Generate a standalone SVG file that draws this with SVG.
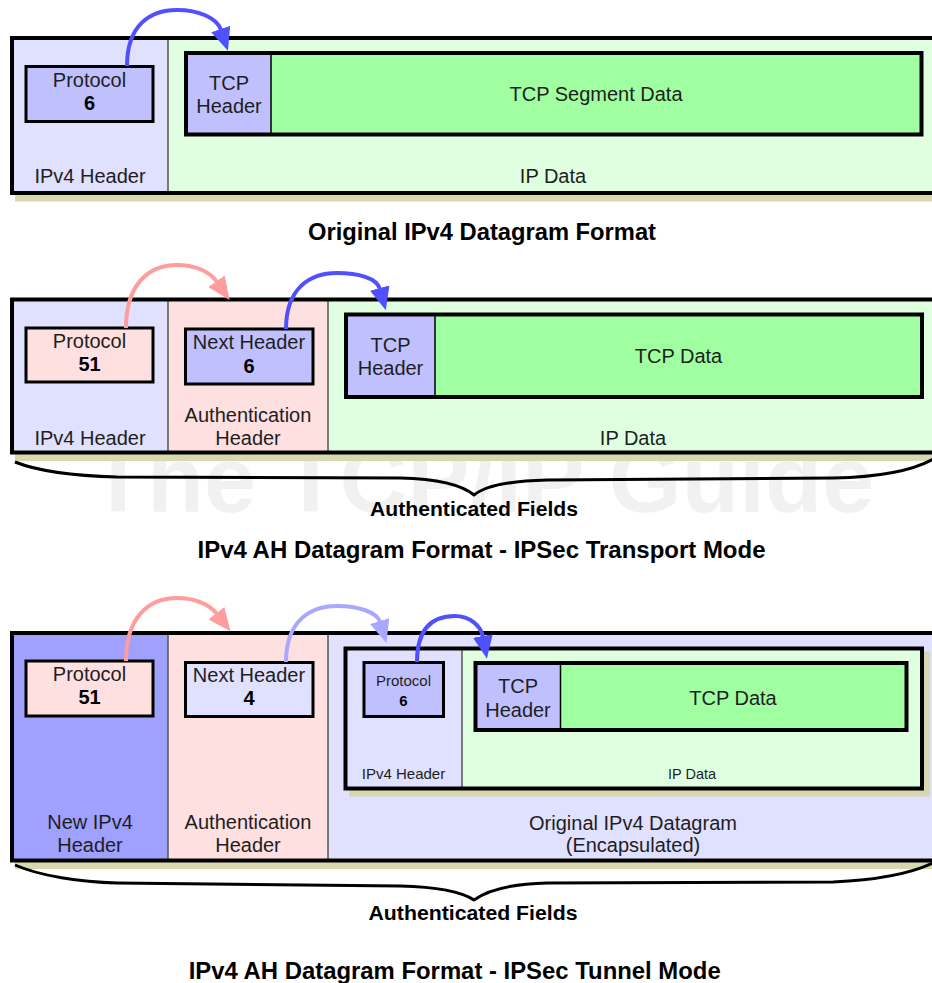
<svg xmlns="http://www.w3.org/2000/svg" width="932" height="983" viewBox="0 0 932 983">
<defs>
<style>
.t{font-family:"Liberation Sans",Arial,sans-serif;font-size:20px;fill:#1e1e1e;text-anchor:middle}
.b{font-weight:bold;fill:#000}
.s{font-size:15px}
.ttl{font-family:"Liberation Sans",Arial,sans-serif;font-size:23.5px;font-weight:bold;fill:#000;text-anchor:middle}
.af{font-family:"Liberation Sans",Arial,sans-serif;font-size:19.5px;font-weight:bold;fill:#000;text-anchor:middle}
.frame{fill:none;stroke:#000;stroke-width:4}
.fld{stroke:#000;stroke-width:3}
.div{stroke:#555;stroke-width:1.5}
.tdiv{stroke:#000;stroke-width:1.5}
.shadow{fill:#d8d8b0}
.lav{fill:#e0e0ff}
.peri{fill:#c0c0ff}
.mid{fill:#a0a0ff}
.pink{fill:#ffe0e0}
.lgreen{fill:#e0ffe0}
.green{fill:#a0ffa0}
.arr{fill:none;stroke-width:4}
.brace{fill:none;stroke:#000;stroke-width:3;stroke-linejoin:round}
</style>
<marker id="mb" markerUnits="userSpaceOnUse" markerWidth="24" markerHeight="20" viewBox="0 0 24 20" refX="1" refY="10" orient="auto"><path d="M0,0 L23,10 L0,20 Z" fill="#5050ff"/></marker>
<marker id="mp" markerUnits="userSpaceOnUse" markerWidth="24" markerHeight="20" viewBox="0 0 24 20" refX="1" refY="10" orient="auto"><path d="M0,0 L23,10 L0,20 Z" fill="#ff9c9c"/></marker>
<marker id="ml" markerUnits="userSpaceOnUse" markerWidth="24" markerHeight="20" viewBox="0 0 24 20" refX="1" refY="10" orient="auto"><path d="M0,0 L23,10 L0,20 Z" fill="#a8a8ff"/></marker>
</defs>
<rect width="932" height="983" fill="#fff"/>
<text x="482" y="512" font-family="Liberation Sans, Arial, sans-serif" font-size="94" font-weight="bold" text-anchor="middle" fill="#000" fill-opacity="0.055" textLength="785" lengthAdjust="spacingAndGlyphs">The TCP/IP Guide</text>

<!-- Section 1: Original IPv4 datagram -->
<g id="orig-datagram">
<rect class="shadow" x="15" y="46" width="925" height="155.5"/>
<rect class="lav" x="12" y="38" width="156" height="155"/>
<rect class="lgreen" x="168" y="38" width="772" height="155"/>
<line class="div" x1="168" y1="38" x2="168" y2="193"/>
<rect class="frame" x="12" y="38" width="928" height="155"/>
<text class="t" x="90" y="183">IPv4 Header</text>
<text class="t" x="553" y="183">IP Data</text>
</g>
<g id="orig-protocol">
<rect class="peri fld" x="26" y="66.5" width="127" height="55"/>
<text class="t" x="89.5" y="87">Protocol</text>
<text class="t b" x="89.5" y="109.5">6</text>
</g>
<g id="orig-tcp">
<rect class="peri" x="186" y="53" width="85" height="81.5"/>
<rect class="green" x="271" y="53" width="650.5" height="81.5"/>
<line class="tdiv" x1="271" y1="53" x2="271" y2="134.5"/>
<rect class="frame" x="186" y="53" width="735.5" height="81.5"/>
<text class="t" x="229" y="90">TCP</text>
<text class="t" x="229" y="112.5">Header</text>
<text class="t" x="596" y="100.5">TCP Segment Data</text>
</g>
<text class="ttl" x="482" y="240" textLength="348" lengthAdjust="spacingAndGlyphs">Original IPv4 Datagram Format</text>

<!-- Section 2: Transport mode -->
<g id="tr-datagram">
<rect class="shadow" x="15" y="307" width="925" height="154"/>
<rect class="lav" x="12" y="299.5" width="156" height="153"/>
<rect class="pink" x="168" y="299.5" width="160" height="153"/>
<rect class="lgreen" x="328" y="299.5" width="612" height="153"/>
<line class="div" x1="168" y1="299.5" x2="168" y2="452.5"/>
<line class="div" x1="328" y1="299.5" x2="328" y2="452.5"/>
<rect class="frame" x="12" y="299.5" width="928" height="153"/>
<text class="t" x="90" y="445">IPv4 Header</text>
<text class="t" x="248" y="421.5">Authentication</text>
<text class="t" x="248" y="445">Header</text>
<text class="t" x="633" y="444.5">IP Data</text>
</g>
<g id="tr-protocol">
<rect class="pink fld" x="26" y="328" width="127" height="54"/>
<text class="t" x="89.5" y="347.5">Protocol</text>
<text class="t b" x="89.5" y="370.5">51</text>
</g>
<g id="tr-nexthdr">
<rect class="peri fld" x="185.5" y="329" width="127.5" height="55"/>
<text class="t" x="249" y="349">Next Header</text>
<text class="t b" x="249" y="372.5">6</text>
</g>
<g id="tr-tcp">
<rect class="peri" x="346" y="314.5" width="89" height="82.5"/>
<rect class="green" x="435" y="314.5" width="487" height="82.5"/>
<line class="tdiv" x1="435" y1="314.5" x2="435" y2="397"/>
<rect class="frame" x="346" y="314.5" width="576" height="82.5"/>
<text class="t" x="390.5" y="351.5">TCP</text>
<text class="t" x="390.5" y="375">Header</text>
<text class="t" x="678.5" y="363.3">TCP Data</text>
</g>
<text class="af" x="474" y="515.5" textLength="208" lengthAdjust="spacingAndGlyphs">Authenticated Fields</text>
<text class="ttl" x="481.5" y="558.3" textLength="568" lengthAdjust="spacingAndGlyphs">IPv4 AH Datagram Format - IPSec Transport Mode</text>

<!-- Section 3: Tunnel mode -->
<g id="tu-datagram">
<rect class="shadow" x="15" y="641" width="925" height="228"/>
<rect class="mid" x="12" y="633" width="156" height="227.5"/>
<rect class="pink" x="168" y="633" width="160" height="227.5"/>
<rect class="lav" x="328" y="633" width="612" height="227.5"/>
<line class="div" x1="168" y1="633" x2="168" y2="860.5"/>
<line class="div" x1="328" y1="633" x2="328" y2="860.5"/>
<rect class="frame" x="12" y="633" width="928" height="227.5"/>
<text class="t" x="90" y="829">New IPv4</text>
<text class="t" x="90" y="852">Header</text>
<text class="t" x="248" y="829">Authentication</text>
<text class="t" x="248" y="852">Header</text>
<text class="t" x="633" y="830">Original IPv4 Datagram</text>
<text class="t" x="633" y="852">(Encapsulated)</text>
</g>
<g id="tu-protocol">
<rect class="pink fld" x="26" y="661" width="127" height="55"/>
<text class="t" x="89.5" y="680.5">Protocol</text>
<text class="t b" x="89.5" y="704">51</text>
</g>
<g id="tu-nexthdr">
<rect class="lav fld" x="185.5" y="662.5" width="127.5" height="54"/>
<text class="t" x="249" y="682">Next Header</text>
<text class="t b" x="249" y="705">4</text>
</g>
<g id="tu-inner-datagram">
<rect class="shadow" x="349" y="651.5" width="581" height="145"/>
<rect class="lav" x="345.5" y="648.5" width="116.5" height="140"/>
<rect class="lgreen" x="462" y="648.5" width="460" height="140"/>
<line class="div" x1="462" y1="648.5" x2="462" y2="788.5"/>
<rect class="frame" x="345.5" y="648.5" width="576.5" height="140"/>
<text class="t s" x="403.5" y="779.3">IPv4 Header</text>
<text class="t s" x="692" y="779.3" style="font-size:14.5px">IP Data</text>
</g>
<g id="tu-inner-protocol">
<rect class="peri fld" x="364" y="662.5" width="79.5" height="54"/>
<text class="t s" x="403.5" y="686">Protocol</text>
<text class="t s b" x="403.5" y="705.5">6</text>
</g>
<g id="tu-tcp">
<rect class="peri" x="475.5" y="663" width="85" height="67"/>
<rect class="green" x="560.5" y="663" width="346" height="67"/>
<line class="tdiv" x1="560.5" y1="663" x2="560.5" y2="730"/>
<rect class="frame" x="475.5" y="663" width="431" height="67"/>
<text class="t" x="518" y="692.7">TCP</text>
<text class="t" x="518" y="716.7">Header</text>
<text class="t" x="733" y="705">TCP Data</text>
</g>
<text class="af" x="473" y="920" textLength="209" lengthAdjust="spacingAndGlyphs">Authenticated Fields</text>
<text class="ttl" x="454.7" y="979.3" textLength="532" lengthAdjust="spacingAndGlyphs">IPv4 AH Datagram Format - IPSec Tunnel Mode</text>

<!-- Connectors -->
<g id="connectors">
<path class="arr" stroke="#5050ff" marker-end="url(#mb)" d="M127,66 C127,25 150,10 177,10 C199,10 217,18 221,30"/>
<path class="arr" stroke="#ff9c9c" marker-end="url(#mp)" d="M126,328 C126,285 148,265 177,265 C196,265 210,272 217,282"/>
<path class="arr" stroke="#5050ff" marker-end="url(#mb)" d="M286,329 C286,288 310,273 337,273 C358,273 377,278 380,289"/>
<path class="arr" stroke="#ff9c9c" marker-end="url(#mp)" d="M126,661 C126,618 148,598 177,598 C196,598 210,605 217,614"/>
<path class="arr" stroke="#a8a8ff" marker-end="url(#ml)" d="M286,662 C286,621 310,606 337,606 C358,606 377,612 380,622"/>
<path class="arr" stroke="#5050ff" marker-end="url(#mb)" d="M417,662 C417,628 433,616 455,616 C470,616 481,626 483,637"/>
<path class="brace" d="M15,462 C40,472 80,476 117,477 L400,478 C440,479 462,485 474,495 C486,485 510,481 547,480 L833,478 C880,477 915,470 935,458"/>
<path class="brace" d="M15,865 C40,876 80,882 117,883 L400,886 C440,887 462,892 474,900 C486,891 510,884 547,883 L833,882 C880,880 915,872 935,862"/>
</g>
</svg>
